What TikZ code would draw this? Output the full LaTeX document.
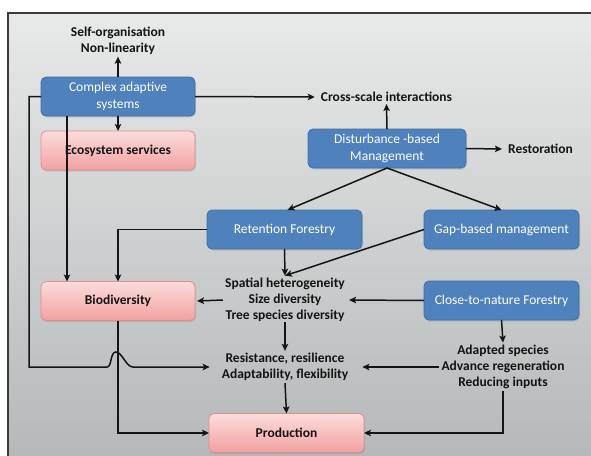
\documentclass[tikz,border=0pt]{standalone}
\usepackage{fontspec}
\setmainfont{Carlito}
\usetikzlibrary{arrows.meta,shadows}
\definecolor{boxblue}{HTML}{4F81BD}
\definecolor{boxblueline}{HTML}{3F6FA6}
\definecolor{pinktop}{HTML}{FCDCDC}
\definecolor{pinkbot}{HTML}{F3A1A1}
\definecolor{pinkline}{HTML}{DE8E8E}
\definecolor{bgtop}{HTML}{E8E9E9}
\definecolor{bgbot}{HTML}{B3B7B8}
\definecolor{framecol}{HTML}{3A3A3A}
\definecolor{ink}{HTML}{141414}
\begin{document}
\begin{tikzpicture}[x=1pt,y=-1pt,
  basebox/.style={rounded corners=5pt, minimum height=39pt, align=center, inner sep=2pt, outer sep=0pt,
    font=\fontsize{13.5}{16.3}\selectfont, line width=0.8pt,
    drop shadow={opacity=0.25, shadow xshift=1pt, shadow yshift=-1.5pt}},
  bluebox/.style={basebox, fill=boxblue, draw=boxblueline, text=white, minimum width=155pt},
  pinkbox/.style={basebox, top color=pinktop, bottom color=pinkbot, draw=pinkline, text=ink, minimum width=155pt, font=\fontsize{13.5}{16.3}\selectfont\bfseries},
  lbl/.style={align=center, text=ink, inner sep=2pt, font=\fontsize{13.5}{16.3}\selectfont\bfseries},
  conn/.style={line width=1.5pt, draw=ink},
  arr/.style={conn, -{Stealth[length=7pt, width=6.5pt, inset=1.5pt]}}
]
\useasboundingbox (0,0) rectangle (591,455);
\begin{scope}
  \clip (0,0) rectangle (591,455);
  \fill[white] (0,0) rectangle (591,455);
  \shade[top color=bgtop, bottom color=bgbot] (8,13) rectangle (600,470);
  \draw[framecol, line width=1.5pt] (8,470) -- (8,13) -- (600,13);
\end{scope}

% boxes
\node[bluebox, minimum width=154pt] (cas) at (118,96.5) {Complex adaptive\\systems};
\node[pinkbox, minimum width=154pt] (eco) at (118,150.5) {Ecosystem services};
\node[bluebox, minimum width=158pt] (dbm) at (387,148.5) {Disturbance -based\\Management};
\node[bluebox] (rf) at (284.5,229.5) {Retention Forestry};
\node[bluebox] (gap) at (501.5,229.5) {Gap-based management};
\node[pinkbox, minimum width=154pt] (bio) at (118,301) {Biodiversity};
\node[bluebox] (ctn) at (501.5,300.5) {Close-to-nature Forestry};
\node[pinkbox] (prod) at (286.5,433) {Production};

% labels
\node[lbl] (self) at (118,40.5) {Self-organisation\\Non-linearity};
\node[lbl] (cross) at (386.5,97) {Cross-scale interactions};
\node[lbl] (rest) at (540.5,149) {Restoration};
\node[lbl] (spat) at (285,300) {Spatial heterogeneity\\Size diversity\\Tree species diversity};
\node[lbl] (resi) at (285,367) {Resistance, resilience\\Adaptability, flexibility};
\node[lbl] (adap) at (503,367) {Adapted species\\Advance regeneration\\Reducing inputs};

% coordinates for the hump
\coordinate (lc1) at (29,96.5);
\coordinate (lc2) at (29,367);
\coordinate (h1) at (107,367);
\coordinate (h2) at (133,367);

% connectors
\draw[arr] (cas.north) -- (self.south);
\draw[arr] (cas.south) -- (eco.north);
\draw[arr] (cas.east) -- ([xshift=-4pt]cross.west);
\draw[arr] (dbm.north) -- (cross.south);
\draw[arr] (dbm.east) -- ([xshift=-4pt]rest.west);
\draw[arr] (dbm.south) -- ([xshift=3pt]rf.north);
\draw[arr] (dbm.south) -- (gap.north);
\draw[arr] ([xshift=-51pt]cas.south) -- ([xshift=-51pt]bio.north);
\draw[arr] (rf.west) -| (bio.north);
\draw[arr] (rf.south) -- (spat.north);
\draw[arr] (gap.west) -- (spat.north);
\draw[arr] (spat.west) -- ([xshift=2pt]bio.east);
\draw[arr] (ctn.west) -- ([xshift=2pt]spat.east);
\draw[arr] ([yshift=2pt]spat.south) -- (resi.north);
\draw[arr] (ctn.south) -- (adap.north);
\draw[arr] (adap.west) -- ([xshift=12pt]resi.east);
\draw[arr] (resi.south) -- (prod.north);
\draw[arr] (bio.south) |- (prod.west);
\draw[arr] (adap.south) |- (prod.east);
\draw[arr] (cas.west) -- (lc1) -- (lc2) -- (h1)
  .. controls (112,367) and (110,352) .. (116,352)
  .. controls (122,352) and (126,367) .. (h2)
  -- ([xshift=-10pt]resi.west);
\end{tikzpicture}
\end{document}
